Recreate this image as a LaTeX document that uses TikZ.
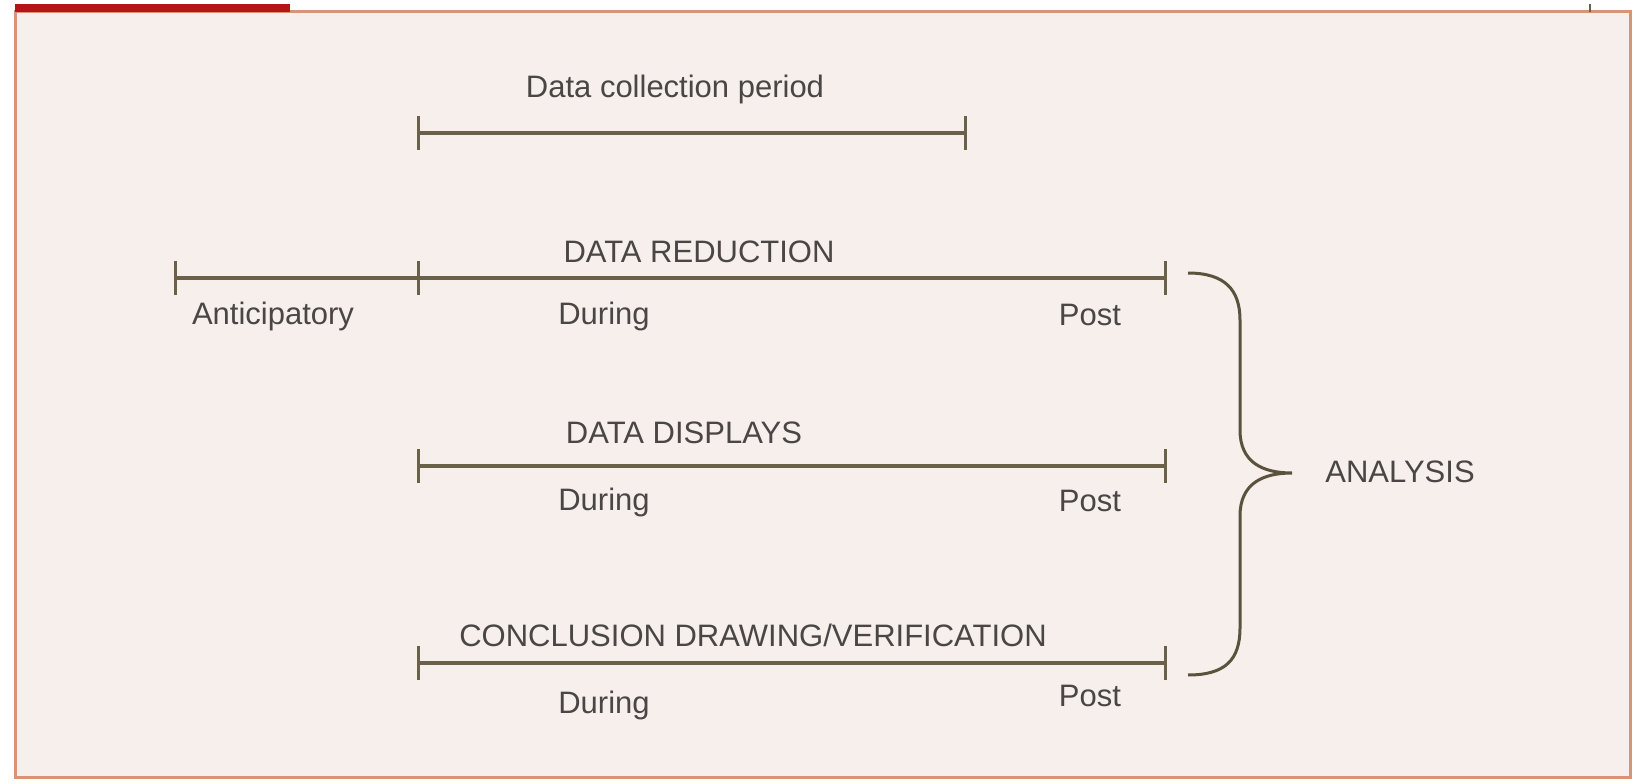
\documentclass[tikz,border=0pt]{standalone}
\usepackage{fontspec}
\setmainfont{Liberation Sans}
\usetikzlibrary{arrows.meta}
\definecolor{bgfill}{HTML}{F6EFEB}
\definecolor{frameline}{HTML}{D99478}
\definecolor{linecol}{HTML}{6A6148}
\definecolor{txtcol}{HTML}{4A4646}
\definecolor{redbar}{HTML}{B5141A}
\begin{document}
\begin{tikzpicture}[x=1pt,y=-1pt,
  lbl/.style={text=txtcol,font=\fontsize{31}{36}\selectfont,inner sep=0pt,anchor=center},
  tl/.style={draw=linecol,line width=3.5pt,{Bar[width=34pt,line width=3pt]}-{Bar[width=34pt,line width=3pt]}},
  midtick/.style={draw=linecol,line width=3pt},
  brace/.style={draw=linecol!85!black,line width=3pt}]
\useasboundingbox (0,0) rectangle (1634,784);
\fill[white] (0,0) rectangle (1634,784);
% frame
\fill[bgfill] (15,12) rectangle (1630,777);
\draw[frameline,line width=3pt] (15,12) rectangle (1630,777);
\fill[redbar] (15,4) rectangle (290,12);
\draw[linecol,line width=1.5pt] (1590,4) -- (1590,12);
% coordinates
\coordinate (dcL) at (417,133);
\coordinate (dcR) at (967,133);
\coordinate (r1A) at (174,278);
\coordinate (r1M) at (418,278);
\coordinate (r1R) at (1167,278);
\coordinate (r2L) at (417,466);
\coordinate (r2R) at (1167,466);
\coordinate (r3L) at (417,663);
\coordinate (r3R) at (1167,663);
% labels
\node[lbl] (dct) at (675,89) {Data collection period};
\node[lbl] (dr) at (699,252) {DATA REDUCTION};
\node[lbl] (ant) at (273,316) {Anticipatory};
\node[lbl] (d1) at (604,316) {During};
\node[lbl] (p1) at (1090,315) {Post};
\node[lbl] (dd) at (684,433) {DATA DISPLAYS};
\node[lbl] (d2) at (604,502) {During};
\node[lbl] (p2) at (1090,501) {Post};
\node[lbl] (cd) at (753,635) {CONCLUSION DRAWING/VERIFICATION};
\node[lbl] (d3) at (604,705) {During};
\node[lbl] (p3) at (1090,696) {Post};
\node[lbl] (an) at (1400,472) {ANALYSIS};
% timelines
\draw[tl] (dcL) -- (dcR);
\draw[tl] (r1A) -- (r1R);
\draw[midtick] ([yshift=-17pt]r1M) -- ([yshift=17pt]r1M);
\draw[tl] (r2L) -- (r2R);
\draw[tl] (r3L) -- (r3R);
% brace
\coordinate (bt) at (1188,273);
\coordinate (bb) at (1188,675);
\coordinate (tip) at (1292,473);
\draw[brace] (bt) .. controls (1225,273) and (1240,290) .. (1240,320)
  -- (1240,430) .. controls (1240,462) and (1262,473) .. (tip)
  .. controls (1262,473) and (1240,484) .. (1240,516)
  -- (1240,628) .. controls (1240,660) and (1225,675) .. (bb);
\end{tikzpicture}
\end{document}
